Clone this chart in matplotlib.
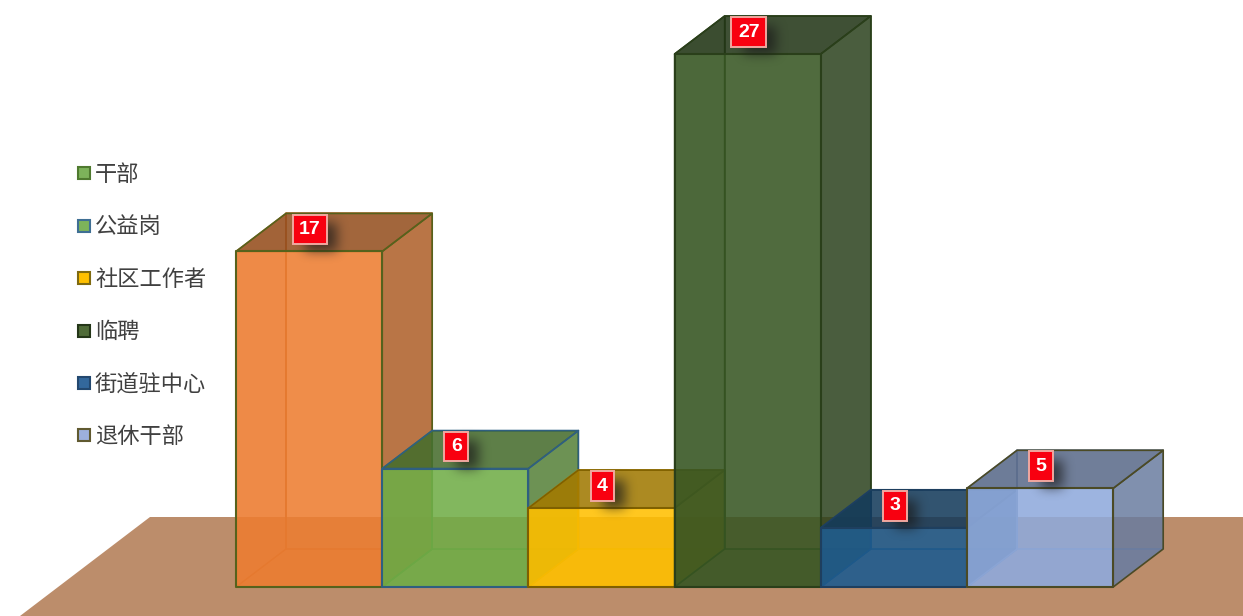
"""3D-style staffing bar chart with a floor plane."""
import matplotlib
matplotlib.use("Agg")
import matplotlib.pyplot as plt
import numpy as np
from matplotlib.lines import Line2D
from matplotlib.patches import Polygon

plt.rcParams["font.family"] = ["Noto Sans CJK SC", "DejaVu Sans"]

categories = ["干部", "公益岗", "社区工作者", "临聘", "街道驻中心", "退休干部"]
values = [17, 6, 4, 27, 3, 5]
bar_colors = ["#ED7D31", "#70AD47", "#FFC000", "#375623", "#1F5C8F", "#8FAADC"]
edge_colors = ["#56621C", "#2F5F80", "#7F6000", "#2A3F1A", "#1E3F5F", "#4B4A25"]
legend_fill = ["#7DB35A", "#7DB35A", "#FFC000", "#4F6B38", "#33689C", "#9DB0DD"]
legend_edge = ["#4F7A2F", "#3F6F94", "#7F6A10", "#243618", "#23486F", "#605A30"]

W, H = 1243, 616
X0, BAR_W = 236, 146.2       # px of first bar, px per category
Y0, UNIT = 587, 19.74        # px of baseline, px per value unit
DX = 50 / BAR_W              # depth offset in data units
DY = 38 / UNIT
FLOOR = "#BC8D6B"


def shade(color, k):
    rgb = np.array(matplotlib.colors.to_rgb(color))
    return tuple(rgb * k)


def face(ax, pts, color, alpha, z, edge=None, lw=0.0):
    ax.add_patch(Polygon(pts, closed=True, facecolor=color, alpha=alpha,
                         edgecolor="none", zorder=z))
    if edge is not None:
        ax.add_patch(Polygon(pts, closed=True, fill=False, edgecolor=edge,
                             linewidth=lw, zorder=z + 0.01, joinstyle="round"))


def draw_box(ax, i, v, color, edge, z):
    l, r = i, i + 1
    inner = shade(color, 0.78)
    # back, bottom and left walls, seen through the front
    face(ax, [(l + DX, DY), (r + DX, DY), (r + DX, v + DY), (l + DX, v + DY)],
         color, 0.12, z, inner, 1.1)
    face(ax, [(l, 0), (r, 0), (r + DX, DY), (l + DX, DY)], color, 0.3, z)
    face(ax, [(l, 0), (l + DX, DY), (l + DX, v + DY), (l, v)], color, 0.25, z, inner, 1.1)
    # right wall and lid
    face(ax, [(r, 0), (r + DX, DY), (r + DX, v + DY), (r, v)],
         shade(color, 0.72), 0.82, z + 0.1, edge, 1.2)
    face(ax, [(l, v), (r, v), (r + DX, v + DY), (l + DX, v + DY)],
         shade(color, 0.62), 0.85, z + 0.2, edge, 1.2)
    # front
    face(ax, [(l, 0), (r, 0), (r, v), (l, v)], color, 0.86, z + 0.3, edge, 1.5)


def soft_shadow(ax, cx, cy, wpx, hpx, z):
    pad = 26
    w, h = int(wpx + 2 * pad), int(hpx + 2 * pad)
    a = np.zeros((h, w))
    a[pad:h - pad, pad:w - pad] = 1.0
    kernel = np.ones(11) / 11
    for _ in range(3):
        a = np.apply_along_axis(lambda m: np.convolve(m, kernel, "same"), 0, a)
        a = np.apply_along_axis(lambda m: np.convolve(m, kernel, "same"), 1, a)
    img = np.zeros((h, w, 4))
    img[..., :3] = 0.1
    img[..., 3] = a * 0.68
    ext = [cx - w / 2 / BAR_W, cx + w / 2 / BAR_W, cy - h / 2 / UNIT, cy + h / 2 / UNIT]
    ax.imshow(img, extent=ext, aspect="auto", zorder=z, interpolation="bilinear")


fig = plt.figure(figsize=(W / 100, H / 100), dpi=100)
ax = fig.add_axes([0, 0, 1, 1])
ax.axis("off")

ax.add_patch(Polygon([(20 / W, 0), (150 / W, 1 - 517 / H), (1, 1 - 517 / H), (1, 0)],
                     closed=True, transform=ax.transAxes, facecolor=FLOOR,
                     edgecolor="none", zorder=1))

for i, (v, c, e) in enumerate(zip(values, bar_colors, edge_colors)):
    draw_box(ax, i, v, c, e, 2 + i)

for i, v in enumerate(values):
    cx = i + 0.5
    cy = v + 22 / UNIT
    wpx = 32 if v >= 10 else 22
    soft_shadow(ax, cx + 12 / BAR_W, cy - 8 / UNIT, wpx, 28, 20)
    ax.text(cx + 1 / BAR_W, cy, str(v), ha="center", va="center", color="white",
            fontsize=14, fontweight="bold", family=["Liberation Sans", "DejaVu Sans"],
            zorder=21,
            bbox=dict(boxstyle="square,pad=0.33", facecolor="#F80010",
                      edgecolor="#F0A8A0", linewidth=1.4))

handles = [Line2D([], [], linestyle="none", marker="s", markersize=8.6,
                  markerfacecolor=f, markeredgecolor=e, markeredgewidth=1.5)
           for f, e in zip(legend_fill, legend_edge)]
ax.legend(handles, categories, loc="upper left", bbox_to_anchor=(74 / W, 1 - 163 / H),
          bbox_transform=fig.transFigure, frameon=False, prop={"size": 16},
          labelcolor="#404040", labelspacing=1.325, handlelength=0.9,
          handletextpad=0.04, borderpad=0, borderaxespad=0)

ax.set_xlim(-X0 / BAR_W, (W - X0) / BAR_W)
ax.set_ylim(-(H - Y0) / UNIT, Y0 / UNIT)

fig.savefig("out.png", dpi=100, facecolor="white")
